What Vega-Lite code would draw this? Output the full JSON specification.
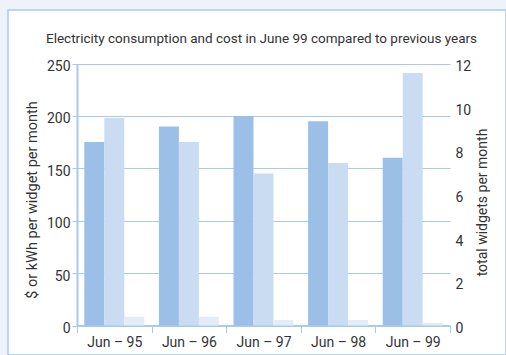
{
  "$schema": "https://vega.github.io/schema/vega-lite/v6.json",
  "width": 498,
  "height": 345,
  "autosize": {"type": "none"},
  "padding": {"left": 8, "top": 10, "right": 0, "bottom": 0},
  "background": "#eef3fb",
  "title": {
    "text": "Electricity consumption and cost in June 99 compared to previous years",
    "anchor": "start",
    "frame": "group",
    "offset": -35,
    "dx": 38,
    "font": "Roboto",
    "fontSize": 13.5,
    "fontWeight": "normal",
    "color": "#333333"
  },
  "data": {
    "values": [
      {"month": "Jun – 95", "series": "$ per widget", "value": 175},
      {"month": "Jun – 95", "series": "kWh per widget", "value": 198},
      {"month": "Jun – 95", "series": "total widgets", "value": 0.4},
      {"month": "Jun – 96", "series": "$ per widget", "value": 190},
      {"month": "Jun – 96", "series": "kWh per widget", "value": 175},
      {"month": "Jun – 96", "series": "total widgets", "value": 0.4},
      {"month": "Jun – 97", "series": "$ per widget", "value": 200},
      {"month": "Jun – 97", "series": "kWh per widget", "value": 145},
      {"month": "Jun – 97", "series": "total widgets", "value": 0.25},
      {"month": "Jun – 98", "series": "$ per widget", "value": 195},
      {"month": "Jun – 98", "series": "kWh per widget", "value": 155},
      {"month": "Jun – 98", "series": "total widgets", "value": 0.25},
      {"month": "Jun – 99", "series": "$ per widget", "value": 160},
      {"month": "Jun – 99", "series": "kWh per widget", "value": 241},
      {"month": "Jun – 99", "series": "total widgets", "value": 0.12}
    ]
  },
  "encoding": {
    "x": {
      "field": "month",
      "type": "nominal",
      "sort": null,
      "scale": {"range": [69, 442], "paddingInner": 0, "paddingOuter": 0},
      "axis": {
        "orient": "bottom",
        "offset": -29.5,
        "title": null,
        "grid": false,
        "domainColor": "#a9c9ee",
        "domainWidth": 2,
        "tickColor": "#a9c9ee",
        "tickWidth": 1,
        "tickSize": 7,
        "tickBand": "extent",
        "labelAngle": 0,
        "labelPadding": 3,
        "labelFont": "Roboto",
        "labelFontSize": 14,
        "labelColor": "#333333"
      }
    },
    "xOffset": {
      "field": "series",
      "type": "nominal",
      "scale": {
        "domain": ["$ per widget", "kWh per widget", "total widgets"],
        "paddingInner": 0,
        "paddingOuter": 0.365
      }
    },
    "color": {
      "field": "series",
      "type": "nominal",
      "scale": {
        "domain": ["$ per widget", "kWh per widget", "total widgets"],
        "range": ["#9bbfe6", "#c9dcf2", "#e4ecf8"]
      },
      "legend": null
    }
  },
  "layer": [
    {
      "transform": [{"filter": "datum.series !== 'total widgets'"}],
      "mark": {"type": "bar"},
      "encoding": {
        "y": {
          "field": "value",
          "type": "quantitative",
          "scale": {"domain": [0, 250], "range": [315.5, 53.5], "nice": false},
          "axis": {
            "orient": "left",
            "offset": -69,
            "values": [0, 50, 100, 150, 200, 250],
            "grid": true,
            "gridColor": "#a9c9ee",
            "gridWidth": 1,
            "domainColor": "#a9c9ee",
            "domainWidth": 2,
            "tickColor": "#a9c9ee",
            "tickSize": 5,
            "labelPadding": 2,
            "labelOffset": 3,
            "labelFont": "Roboto",
            "labelFontSize": 14,
            "labelColor": "#333333",
            "title": "$ or kWh per widget per month",
            "titleFont": "Roboto",
            "titleFontSize": 14.5,
            "titleFontWeight": "normal",
            "titleColor": "#333333",
            "titleAngle": 270,
            "titleBaseline": "middle",
            "titleAlign": "center",
            "titleX": -45,
            "titleY": 189.5
          }
        }
      }
    },
    {
      "transform": [{"filter": "datum.series === 'total widgets'"}],
      "mark": {"type": "bar"},
      "encoding": {
        "y": {
          "field": "value",
          "type": "quantitative",
          "scale": {"domain": [0, 12], "range": [315.5, 53.5], "nice": false},
          "axis": {
            "orient": "right",
            "offset": -56,
            "values": [0, 2, 4, 6, 8, 10, 12],
            "grid": false,
            "domain": false,
            "ticks": false,
            "labelPadding": 5,
            "labelOffset": 3,
            "labelFont": "Roboto",
            "labelFontSize": 14,
            "labelColor": "#333333",
            "title": "total widgets per month",
            "titleFont": "Roboto",
            "titleFontSize": 14,
            "titleFontWeight": "normal",
            "titleColor": "#333333",
            "titleAngle": 270,
            "titleBaseline": "middle",
            "titleAlign": "center",
            "titleX": 32,
            "titleY": 192
          }
        }
      }
    }
  ],
  "resolve": {"scale": {"y": "independent"}, "axis": {"y": "independent"}},
  "config": {
    "view": {"fill": "white", "stroke": "#a9c9ee", "strokeWidth": 1.5}
  }
}
